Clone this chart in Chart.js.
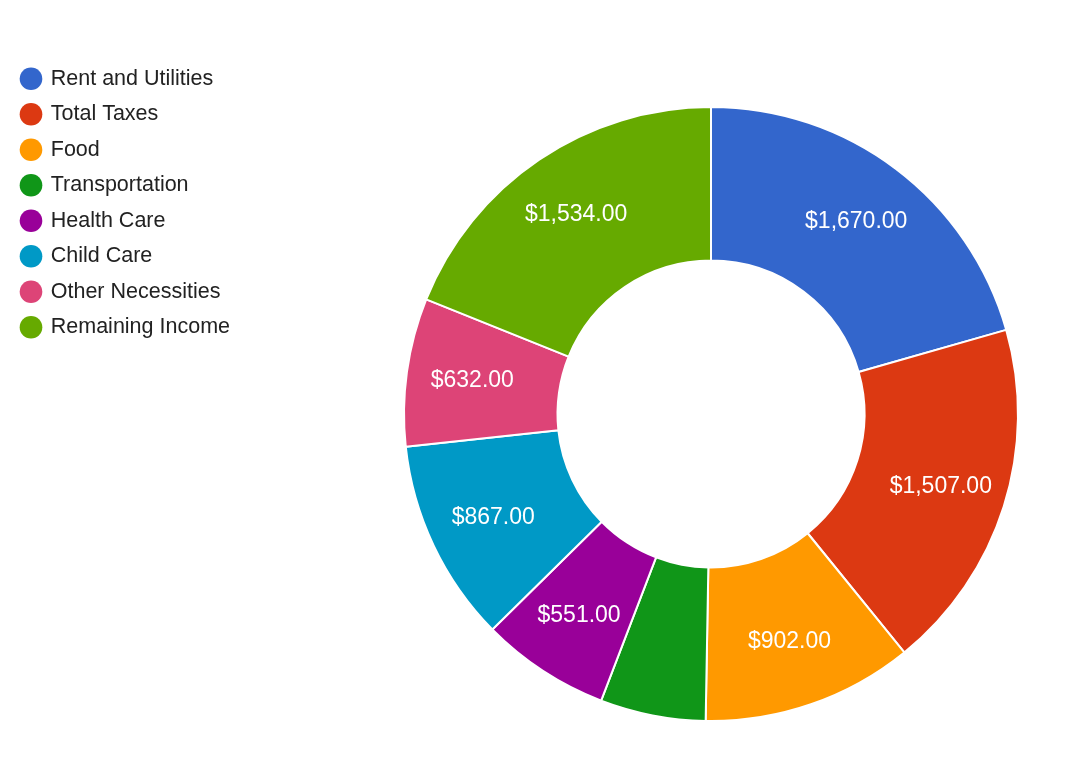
<!DOCTYPE html>
<html>
<head>
<meta charset="utf-8">
<script src="https://cdn.jsdelivr.net/npm/chart.js@4.4.0/dist/chart.umd.min.js"></script>
<style>
html, body { margin: 0; padding: 0; background: #fff; }
#wrap { width: 1080px; height: 774px; position: relative; }
</style>
</head>
<body>
<div id="wrap"><canvas id="budgetChart"></canvas></div>
<script>
const categories = ['Rent and Utilities', 'Total Taxes', 'Food', 'Transportation', 'Health Care', 'Child Care', 'Other Necessities', 'Remaining Income'];
const amounts = [1670, 1507, 902, 450, 551, 867, 632, 1534];
const sliceColors = ['#3366cc', '#dc3912', '#ff9900', '#109618', '#990099', '#0099c6', '#dd4477', '#66aa00'];

const FONT = '"Liberation Sans", Arial, sans-serif';
const money = v => '$' + v.toLocaleString('en-US', {minimumFractionDigits: 2, maximumFractionDigits: 2});

// fixed legend width + move it up above the chart area
const legendSpot = {
  id: 'legendSpot',
  beforeLayout(chart) {
    const lg = chart.legend;
    if (lg && !lg._fixed) {
      const fit = lg.fit;
      lg.fit = function () { fit.call(this); this.width = 395; };
      lg._fixed = true;
    }
  },
  afterLayout(chart) {
    const lg = chart.legend;
    const h = lg.bottom - lg.top;
    lg.top = 54;
    lg.bottom = lg.top + h;
  }
};

// value text inside the slices (skipped when it does not fit)
const sliceText = {
  id: 'sliceText',
  afterDatasetsDraw(chart) {
    const ctx = chart.ctx;
    const arcs = chart.getDatasetMeta(0).data;
    ctx.save();
    ctx.font = '23px ' + FONT;
    ctx.fillStyle = '#ffffff';
    ctx.textAlign = 'center';
    ctx.textBaseline = 'middle';
    arcs.forEach((arc, i) => {
      const p = arc.getProps(['startAngle', 'endAngle', 'innerRadius', 'outerRadius', 'x', 'y'], true);
      const mid = (p.startAngle + p.endAngle) / 2;
      const r = p.innerRadius + (p.outerRadius - p.innerRadius) * 0.57;
      const text = money(amounts[i]);
      if (ctx.measureText(text).width + 8 > (p.endAngle - p.startAngle) * r) return;
      ctx.fillText(text, p.x + Math.cos(mid) * r, p.y + Math.sin(mid) * r);
    });
    ctx.restore();
  }
};

new Chart(document.getElementById('budgetChart'), {
  type: 'doughnut',
  data: {
    labels: categories,
    datasets: [{
      data: amounts,
      backgroundColor: sliceColors,
      borderColor: '#ffffff',
      borderWidth: 2,
      hoverOffset: 0
    }]
  },
  options: {
    responsive: true,
    maintainAspectRatio: false,
    animation: false,
    cutout: '50%',
    layout: { padding: { top: 106, bottom: 52, left: 8, right: 61 } },
    plugins: {
      legend: {
        position: 'left',
        align: 'start',
        labels: {
          usePointStyle: true,
          pointStyle: 'circle',
          boxWidth: 18,
          boxHeight: 16,
          padding: 14,
          color: '#222222',
          font: { family: FONT, size: 21.5 },
          generateLabels: chart => Chart.overrides.doughnut.plugins.legend.labels.generateLabels(chart)
            .map(l => Object.assign(l, { lineWidth: 0, strokeStyle: l.fillStyle }))
        }
      },
      tooltip: { enabled: false }
    }
  },
  plugins: [legendSpot, sliceText]
});
</script>
</body>
</html>
